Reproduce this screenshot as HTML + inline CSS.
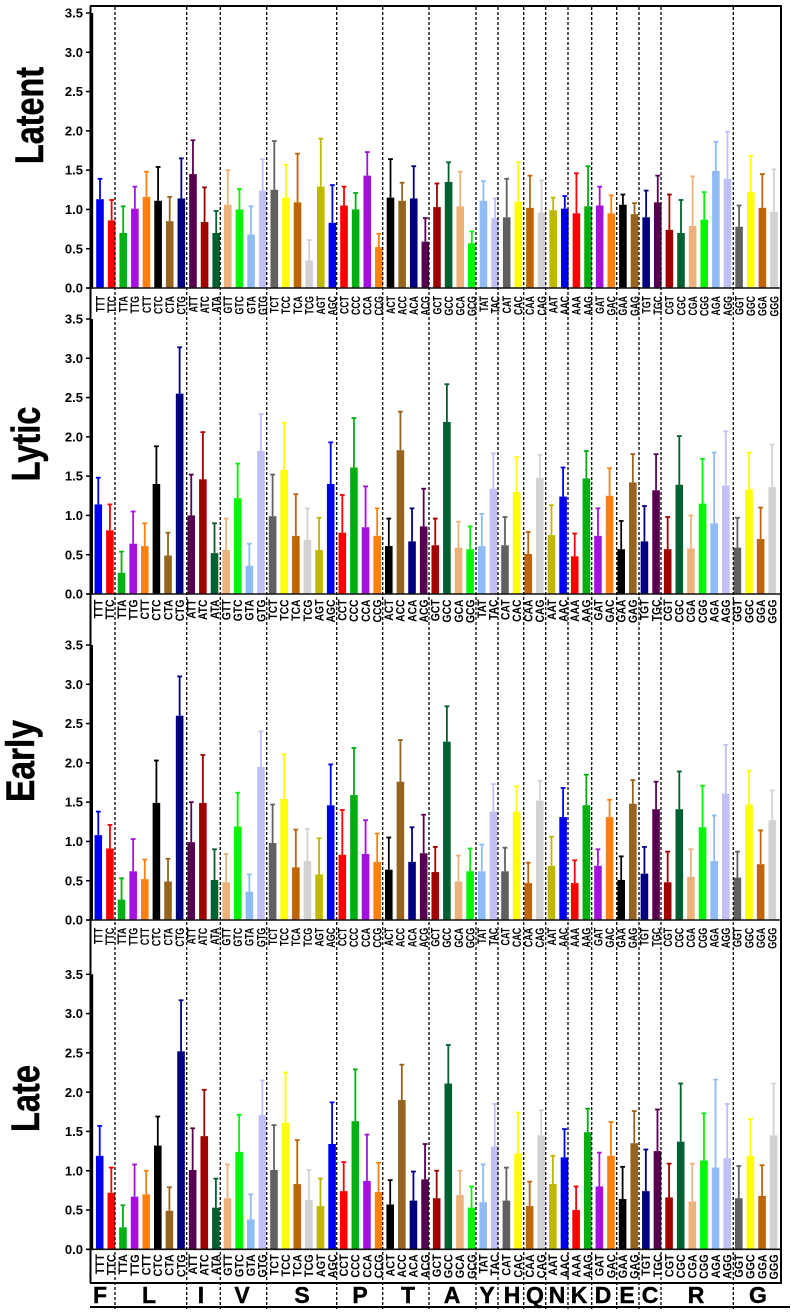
<!DOCTYPE html>
<html lang="en">
<head>
<meta charset="utf-8">
<title>Codon usage by infection stage</title>
<style>
html,body{margin:0;padding:0;background:#fff;width:791px;height:1312px;overflow:hidden}
svg{display:block;filter:blur(.35px)}
text{font-family:"Liberation Sans",Arial,sans-serif;font-weight:bold;fill:#000}
.sep{stroke:#000;stroke-width:1.3;stroke-dasharray:3 2;fill:none}
#titles text{stroke:#000;stroke-width:.5}
#amino-acids text{stroke:#000;stroke-width:.4}
</style>
</head>
<body>
<svg id="chart" xmlns="http://www.w3.org/2000/svg" width="791" height="1312" viewBox="0 0 791 1312">
  <rect x="0" y="0" width="791" height="1312" fill="#fff"/>
  <g id="panels"></g>
  <g id="separators">
    <line class="sep" x1="115" x2="115" y1="7" y2="1309"/>
    <line class="sep" x1="186.7" x2="186.7" y1="7" y2="1309"/>
    <line class="sep" x1="220.3" x2="220.3" y1="7" y2="1309"/>
    <line class="sep" x1="266.7" x2="266.7" y1="7" y2="1309"/>
    <line class="sep" x1="336.7" x2="336.7" y1="7" y2="1309"/>
    <line class="sep" x1="382.7" x2="382.7" y1="7" y2="1309"/>
    <line class="sep" x1="429" x2="429" y1="7" y2="1309"/>
    <line class="sep" x1="476" x2="476" y1="7" y2="1309"/>
    <line class="sep" x1="498" x2="498" y1="7" y2="1309"/>
    <line class="sep" x1="523.7" x2="523.7" y1="7" y2="1309"/>
    <line class="sep" x1="545.7" x2="545.7" y1="7" y2="1309"/>
    <line class="sep" x1="568" x2="568" y1="7" y2="1309"/>
    <line class="sep" x1="591.7" x2="591.7" y1="7" y2="1309"/>
    <line class="sep" x1="616.7" x2="616.7" y1="7" y2="1309"/>
    <line class="sep" x1="639" x2="639" y1="7" y2="1309"/>
    <line class="sep" x1="661" x2="661" y1="7" y2="1309"/>
    <line class="sep" x1="733.3" x2="733.3" y1="7" y2="1309"/>
  </g>
  <g id="frame" fill="none" stroke="#000">
    <line x1="90" x2="782" y1="6" y2="6" stroke-width="2"/>
    <line x1="781" x2="781" y1="6" y2="1283" stroke-width="2"/>
    <line x1="90.5" x2="90.5" y1="6" y2="1283" stroke-width="2"/>
    <line x1="90" x2="782" y1="1283" y2="1283" stroke-width="2"/>
    <line x1="90" x2="790" y1="1307" y2="1307" stroke-width="2"/>
  </g>
  <g id="titles" font-size="40">
    <text text-anchor="middle" transform="translate(43,115.5) rotate(-90) scale(.81,1)">Latent</text>
    <text text-anchor="middle" transform="translate(39.5,444) rotate(-90) scale(.814,1)">Lytic</text>
    <text text-anchor="middle" transform="translate(34,761) rotate(-90) scale(.838,1)">Early</text>
    <text text-anchor="middle" transform="translate(39,1098.5) rotate(-90) scale(.815,1)">Late</text>
  </g>
  <g id="amino-acids" font-size="23" text-anchor="middle">
    <text x="100" y="1303">F</text>
    <text x="149" y="1303">L</text>
    <text x="201" y="1303">I</text>
    <text x="242" y="1303">V</text>
    <text x="302" y="1303">S</text>
    <text x="360" y="1303">P</text>
    <text x="408" y="1303">T</text>
    <text x="452" y="1303">A</text>
    <text x="487" y="1303">Y</text>
    <text x="512" y="1303">H</text>
    <text x="535" y="1303">Q</text>
    <text x="557" y="1303">N</text>
    <text x="579" y="1303">K</text>
    <text x="603" y="1303">D</text>
    <text x="627" y="1303">E</text>
    <text x="650" y="1303">C</text>
    <text x="696" y="1303">R</text>
    <text x="758" y="1303">G</text>
  </g>
</svg>
<script>
const codons = ["TTT","TTC","TTA","TTG","CTT","CTC","CTA","CTG","ATT","ATC","ATA","GTT","GTC","GTA","GTG","TCT","TCC","TCA","TCG","AGT","AGC","CCT","CCC","CCA","CCG","ACT","ACC","ACA","ACG","GCT","GCC","GCA","GCG","TAT","TAC","CAT","CAC","CAA","CAG","AAT","AAC","AAA","AAG","GAT","GAC","GAA","GAG","TGT","TGC","CGT","CGC","CGA","CGG","AGA","AGG","GGT","GGC","GGA","GGG"];
const palette = ["#0000f0","#ff0000","#00b012","#a510e0","#ff800e","#000000","#96641e","#000080","#580050","#a00000","#006030","#edb27c","#00f800","#8fbcf5","#c0c0f5","#606060","#ffff00","#c06408","#d2d2d2","#c0b800"];
const yTicks = [0,0.5,1,1.5,2,2.5,3,3.5];
const yTickLabels = ["0.0","0.5","1.0","1.5","2.0","2.5","3.0","3.5"];

const latentMeans = [1.13,0.86,0.70,1.01,1.16,1.11,0.85,1.14,1.45,0.84,0.70,1.06,1.00,0.68,1.24,1.25,1.15,1.09,0.35,1.29,0.83,1.05,1.00,1.43,0.52,1.15,1.11,1.14,0.59,1.03,1.35,1.04,0.57,1.11,0.89,0.90,1.10,1.02,0.96,0.99,1.01,0.95,1.04,1.05,0.95,1.06,0.94,0.90,1.09,0.74,0.70,0.79,0.87,1.49,1.39,0.78,1.22,1.02,0.97];
const latentUpper = [1.39,1.12,1.04,1.29,1.48,1.54,1.16,1.65,1.88,1.28,0.98,1.50,1.26,1.04,1.64,1.87,1.57,1.71,0.61,1.90,1.31,1.29,1.21,1.73,0.69,1.64,1.34,1.55,0.89,1.33,1.60,1.48,0.72,1.36,1.14,1.39,1.60,1.43,1.37,1.15,1.17,1.46,1.55,1.29,1.18,1.19,1.08,1.24,1.43,1.19,1.12,1.42,1.22,1.86,1.99,1.05,1.68,1.45,1.51];

const lyticMeans = [1.14,0.81,0.27,0.64,0.61,1.40,0.49,2.55,1.00,1.46,0.52,0.56,1.22,0.36,1.82,0.99,1.58,0.74,0.69,0.56,1.40,0.78,1.61,0.85,0.74,0.61,1.83,0.67,0.86,0.62,2.19,0.59,0.57,0.61,1.34,0.62,1.30,0.51,1.48,0.75,1.24,0.48,1.47,0.74,1.25,0.57,1.42,0.67,1.32,0.57,1.39,0.58,1.15,0.90,1.38,0.59,1.33,0.70,1.36];
const lyticUpper = [1.48,1.14,0.54,1.05,0.90,1.88,0.78,3.14,1.52,2.06,0.90,0.96,1.66,0.64,2.29,1.52,2.18,1.27,1.09,0.97,1.93,1.26,2.24,1.37,1.09,0.96,2.32,1.09,1.34,0.96,2.67,0.92,0.86,1.02,1.79,0.98,1.74,0.79,1.77,1.13,1.61,0.77,1.82,1.09,1.60,0.93,1.78,1.12,1.78,0.98,2.01,1.00,1.72,1.80,2.07,0.97,1.80,1.10,1.90];

const earlyMeans = [1.08,0.91,0.26,0.62,0.52,1.49,0.49,2.60,0.99,1.49,0.51,0.48,1.19,0.36,1.95,0.98,1.54,0.67,0.75,0.58,1.46,0.83,1.59,0.84,0.74,0.64,1.76,0.74,0.85,0.61,2.27,0.49,0.62,0.62,1.38,0.62,1.38,0.47,1.52,0.69,1.31,0.47,1.46,0.69,1.31,0.51,1.48,0.59,1.41,0.48,1.41,0.55,1.18,0.75,1.61,0.54,1.47,0.71,1.27];
const earlyUpper = [1.38,1.21,0.53,1.03,0.77,2.03,0.78,3.10,1.50,2.10,0.90,0.84,1.62,0.58,2.40,1.47,2.11,1.15,1.16,1.04,1.98,1.40,2.19,1.27,1.10,1.05,2.29,1.18,1.34,0.93,2.72,0.82,0.91,0.96,1.73,0.92,1.70,0.73,1.77,1.06,1.68,0.76,1.85,0.90,1.53,0.81,1.78,0.93,1.76,0.87,1.89,0.90,1.71,1.33,2.23,0.87,1.90,1.14,1.65];

const lateMeans = [1.19,0.72,0.28,0.67,0.70,1.32,0.49,2.52,1.01,1.44,0.53,0.65,1.24,0.38,1.71,1.01,1.61,0.83,0.63,0.55,1.34,0.74,1.63,0.87,0.73,0.57,1.90,0.62,0.89,0.65,2.11,0.69,0.53,0.60,1.31,0.62,1.22,0.55,1.45,0.83,1.17,0.50,1.49,0.80,1.19,0.64,1.35,0.74,1.25,0.66,1.37,0.61,1.13,1.04,1.16,0.65,1.19,0.68,1.45];
const lateUpper = [1.57,1.04,0.56,1.08,1.00,1.69,0.79,3.17,1.54,2.03,0.90,1.08,1.71,0.70,2.15,1.58,2.25,1.39,1.01,0.90,1.87,1.11,2.29,1.46,1.10,0.88,2.35,0.99,1.34,1.00,2.60,1.00,0.80,1.08,1.85,1.04,1.74,0.86,1.77,1.19,1.53,0.80,1.79,1.23,1.62,1.05,1.76,1.27,1.78,1.09,2.11,1.09,1.73,2.16,1.85,1.06,1.66,1.07,2.11];

const SVG_NS = "http://www.w3.org/2000/svg";
const UNIT = 78.57;
const BAR_STEP = 11.62;
const BAR_WIDTH = 7.6;
const LABEL_SIZE = 12;

function mk(parent, tag, attrs, text) {
  const el = document.createElementNS(SVG_NS, tag);
  for (const k in attrs) el.setAttribute(k, attrs[k]);
  if (text !== undefined) el.textContent = text;
  parent.appendChild(el);
  return el;
}

function drawPanel(name, means, upper, zeroY, firstX, labelOffset, labelScale, axisWidth) {
  const yScale = v => zeroY - v * UNIT;
  const xScale = i => firstX + i * BAR_STEP;
  const root = document.getElementById("panels");

  const g = mk(root, "g", {});
  
  

  codons.forEach((codon, i) => {
    const color = palette[i % palette.length];
    const x = xScale(i);

    const whisker = mk(g, "line", {x1: x, x2: x, y1: yScale(means[i]), y2: yScale(upper[i]), stroke: color, "stroke-width": 1.8});
    
    

    const cap = mk(g, "line", {x1: x - 2.4, x2: x + 2.4, y1: yScale(upper[i]), y2: yScale(upper[i]), stroke: color, "stroke-width": 1.8});
    
    

    const bar = mk(g, "rect", {x: x - BAR_WIDTH / 2, y: yScale(means[i]), width: BAR_WIDTH, height: zeroY - yScale(means[i]), fill: color});
    
    

    const label = mk(g, "text", {
      "font-size": LABEL_SIZE,
      "text-anchor": "end",
      transform: "translate(" + (x + 4.3) + "," + (zeroY + labelOffset) + ") rotate(-90) scale(" + labelScale + ",1)"
    }, codon);
    
    
  });

  const yAxis = mk(g, "line", {x1: 91.5, x2: 91.5, y1: yScale(yTicks[yTicks.length - 1]), y2: zeroY + 0.8, stroke: "#000", "stroke-width": axisWidth});
  
  

  const xAxis = mk(g, "line", {x1: 87, x2: 781, y1: zeroY, y2: zeroY, stroke: "#111", "stroke-width": 1.6});
  
  

  yTicks.forEach((t, i) => {
    const tick = mk(g, "line", {x1: 86, x2: 91, y1: yScale(t), y2: yScale(t), stroke: "#000", "stroke-width": 1.5});
    
    

    const tickLabel = mk(g, "text", {x: 83, y: yScale(t) + 4.6, "font-size": 13, "text-anchor": "end"}, yTickLabels[i]);
    
    
  });
}

drawPanel("latent", latentMeans, latentUpper, 288, 100, 8, 0.73, 3.4);
drawPanel("lytic", lyticMeans, lyticUpper, 594, 98.3, 5.5, 0.86, 3);
drawPanel("early", earlyMeans, earlyUpper, 920, 98.3, 7.7, 0.75, 3);
drawPanel("late", lateMeans, lateUpper, 1249.3, 99.7, 5, 0.9, 3.4);
</script>
</body>
</html>
